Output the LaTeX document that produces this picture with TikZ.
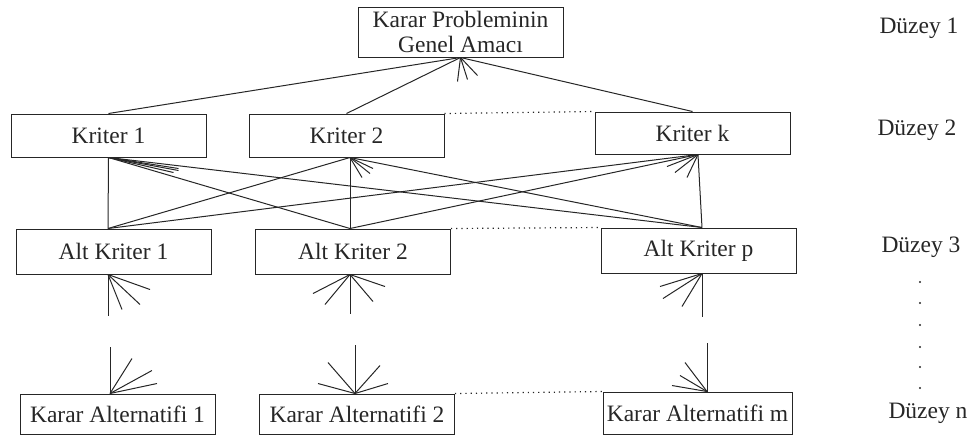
\documentclass[tikz,border=0pt]{standalone}
\usepackage{fontspec}
\setmainfont{Liberation Serif}
\usetikzlibrary{positioning, calc}

% short converging strokes at a port
\newcommand{\arrfan}[2]{\foreach \dx/\dy in {#2} {\draw (#1) -- ++(\dx,\dy);}}

\begin{document}
\begin{tikzpicture}[x=0.5pt, y=-0.5pt, line width=0.5pt, color=black!85,
  box/.style={draw, minimum width=97.5pt, minimum height=21.5pt, inner sep=0pt,
    font=\fontsize{11.75}{12.5}\selectfont},
  lvl/.style={font=\fontsize{11.75}{12.5}\selectfont}]
\useasboundingbox (0,0) rectangle (971,436);

% boxes
\node[box, minimum width=102.5pt, minimum height=25pt, align=center] (goal) at (460.5,32) {Karar Probleminin\\Genel Amacı};
\node[box] (k1) at (108.5,135.5) {Kriter 1};
\node[box] (k2) at (346.5,135.5) {Kriter 2};
\node[box, minimum height=21pt] (kk) at (692.5,133) {Kriter k};
\node[box, minimum height=22.5pt] (a1) at (113.5,251.5) {Alt Kriter 1};
\node[box, minimum height=22.5pt] (a2) at (353,251.5) {Alt Kriter 2};
\node[box, minimum height=22.5pt] (ap) at (698.5,250.5) {Alt Kriter p};
\node[box, minimum height=20pt] (r1) at (117.5,414) {Karar Alternatifi 1};
\node[box, minimum height=20pt] (r2) at (357,414) {Karar Alternatifi 2};
\node[box, minimum width=94.5pt, minimum height=21pt] (rm) at (697.5,413) {Karar Alternatifi m};

% levels
\node[lvl] (d1) at (919,28) {Düzey 1};
\node[lvl] (d2) at (917,130) {Düzey 2};
\node[lvl] (d3) at (921,247) {Düzey 3};
\node[lvl] (dn) at (928,413) {Düzey n};
\foreach \y in {282,303,325,347,367,388}
    \fill (920,\y) circle (1.2);

% ports
\coordinate (gS) at (goal.south);
\coordinate (k1b) at (k1.south);
\coordinate (k2b) at ([xshift=1.75pt]k2.south);
\coordinate (kkb) at ([xshift=2.75pt]kk.south);
\coordinate (a1t) at ([xshift=-2.75pt]a1.north);
\coordinate (a2t) at ([xshift=-1.5pt]a2.north);
\coordinate (apt) at ([xshift=1.75pt]ap.north);
\coordinate (a1b) at ([xshift=-2.75pt]a1.south);
\coordinate (a2b) at ([xshift=-1.5pt]a2.south);
\coordinate (apb) at ([xshift=1.75pt]ap.south);
\coordinate (r1t) at ([xshift=-3.75pt]r1.north);
\coordinate (r2t) at ([xshift=-1pt]r2.north);
\coordinate (rmt) at ([xshift=4.75pt]rm.north);

% goal to criteria
\foreach \n in {k1,k2,kk}
    \draw (gS) -- (\n.north);
\arrfan{gS}{-3/24,7/22,17/18}

% criteria to sub-criteria
\foreach \k in {k1b,k2b,kkb}
    \foreach \a in {a1t,a2t,apt}
        \draw (\k) -- (\a);
\arrfan{k1b}{70/11,70/13,65/15}
\arrfan{k2b}{12/20,20/16,23/11}
\arrfan{kkb}{-11/23,-23/18,-31/12}

% sub-criteria to alternatives
\draw (a1b) -- ++(0,41);
\draw (a2b) -- ++(0,39);
\draw (apb) -- ++(0,43);
\arrfan{a1b}{14/35,32/30,42/15}
\arrfan{a2b}{-37/19,-25/30,23/27,35/12}
\arrfan{apb}{-42/13,-39/25,-20/33}
\draw (r1t) -- ++(0,-47);
\draw (r2t) -- ++(0,-49);
\draw (rmt) -- ++(0,-49);
\arrfan{r1t}{22/-35,42/-23,47/-10}
\arrfan{r2t}{-27/-31,-37/-10,25/-28,33/-10}
\arrfan{rmt}{-22/-29,-27/-16,-35/-6}

% dotted gaps
\draw[dotted, line width=0.6pt] (k2.north east) -- (kk.north west);
\draw[dotted, line width=0.6pt] (a2.north east) -- (ap.north west);
\draw[dotted, line width=0.6pt] (r2.north east) -- (rm.north west);
\end{tikzpicture}
\end{document}
